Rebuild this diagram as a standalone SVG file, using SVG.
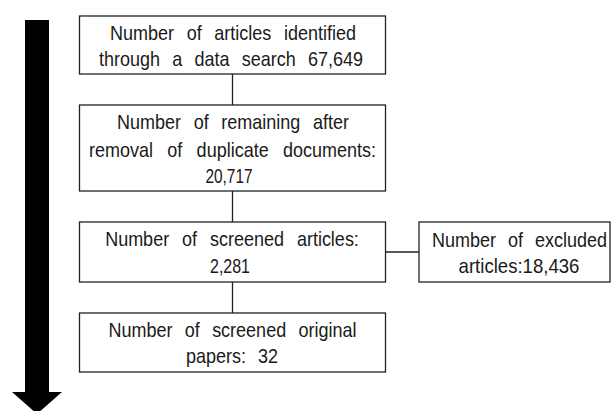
<svg xmlns="http://www.w3.org/2000/svg" width="611" height="411" viewBox="0 0 611 411">
<style>
.box{fill:#fff;stroke:#222;stroke-width:1.3}
.t{font-family:"Liberation Sans",Arial,sans-serif;font-size:20px;fill:#1a1a1a;text-anchor:middle}
.c{stroke:#222;stroke-width:1.3;fill:none}
</style>
<rect width="611" height="411" fill="#fff"/>
<g id="timeline-arrow">
<polygon points="25,20 49,20 49,392 62,392 37,414 12,392 25,392" fill="#000"/>
</g>
<g id="connectors">
<line class="c" x1="232.5" y1="74" x2="232.5" y2="105"/>
<line class="c" x1="232.5" y1="191" x2="232.5" y2="222"/>
<line class="c" x1="232.5" y1="282" x2="232.5" y2="313"/>
<line class="c" x1="385" y1="252" x2="419" y2="252"/>
</g>
<g id="node-identified">
<rect class="box" x="79.5" y="16" width="306" height="58"/>
<text class="t" transform="translate(233,40) scale(0.9,1)" word-spacing="8.5">Number of articles identified</text>
<text class="t" transform="translate(231,66) scale(0.9,1)" word-spacing="8">through a data search 67,649</text>
</g>
<g id="node-remaining">
<rect class="box" x="79.5" y="105" width="306" height="86"/>
<text class="t" transform="translate(233,129) scale(0.9,1)" word-spacing="8.5">Number of remaining after</text>
<text class="t" transform="translate(232.5,157) scale(0.9,1)" word-spacing="10.3">removal of duplicate documents:</text>
<text class="t" transform="translate(229,183) scale(0.77,1)">20,717</text>
</g>
<g id="node-screened">
<rect class="box" x="79.5" y="222" width="306" height="60"/>
<text class="t" transform="translate(232,246) scale(0.9,1)" word-spacing="8.8">Number of screened articles:</text>
<text class="t" transform="translate(230,273) scale(0.8,1)">2,281</text>
</g>
<g id="node-original">
<rect class="box" x="79.5" y="313" width="306" height="59"/>
<text class="t" transform="translate(232.5,337) scale(0.9,1)" word-spacing="8.1">Number of screened original</text>
<text class="t" transform="translate(232,363) scale(0.9,1)" word-spacing="7.8">papers: 32</text>
</g>
<g id="node-excluded">
<rect class="box" x="419" y="222" width="191" height="60"/>
<text class="t" transform="translate(519.5,247) scale(0.9,1)" word-spacing="7.8">Number of excluded</text>
<text class="t" transform="translate(519,273) scale(0.93,1)">articles:18,436</text>
</g>
</svg>
